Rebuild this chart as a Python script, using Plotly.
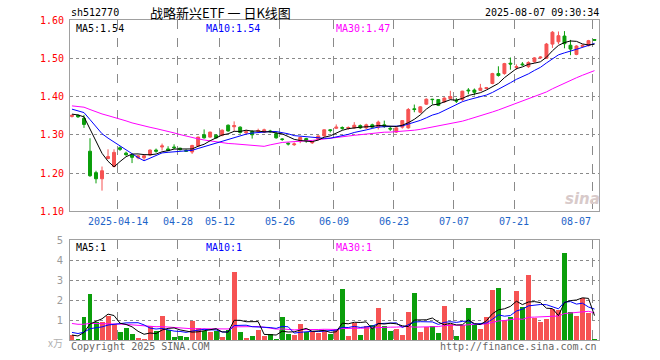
import plotly.graph_objects as go
import pandas as pd

# ---------------- data ----------------
holidays = ["2025-04-04", "2025-05-01", "2025-05-02", "2025-05-05", "2025-06-02"]
dates = [d.strftime("%Y-%m-%d") for d in
         pd.bdate_range("2025-04-01", "2025-08-07", freq="C", holidays=holidays)]

open_ = [1.348, 1.351, 1.343, 1.257, 1.201, 1.185, 1.238, 1.217, 1.266, 1.252,
         1.247, 1.240, 1.240, 1.247, 1.260, 1.268, 1.263, 1.268, 1.265, 1.259,
         1.255, 1.271, 1.300, 1.294, 1.299, 1.299, 1.325, 1.321, 1.320, 1.305,
         1.309, 1.309, 1.307, 1.310, 1.303, 1.289, 1.278, 1.274, 1.284, 1.290,
         1.279, 1.288, 1.297, 1.313, 1.317, 1.319, 1.317, 1.318, 1.324, 1.318,
         1.326, 1.320, 1.326, 1.317, 1.307, 1.320, 1.318, 1.368, 1.359, 1.380,
         1.393, 1.392, 1.386, 1.394, 1.390, 1.392, 1.417, 1.417, 1.416, 1.421,
         1.434, 1.460, 1.460, 1.487, 1.476, 1.485, 1.478, 1.491, 1.501, 1.500,
         1.537, 1.543, 1.558, 1.534, 1.510, 1.531, 1.533, 1.549]
high = [1.353, 1.353, 1.352, 1.291, 1.206, 1.217, 1.262, 1.262, 1.270, 1.256,
        1.249, 1.247, 1.247, 1.262, 1.264, 1.277, 1.270, 1.275, 1.266, 1.262,
        1.274, 1.295, 1.314, 1.308, 1.302, 1.314, 1.327, 1.335, 1.322, 1.313,
        1.312, 1.316, 1.316, 1.313, 1.309, 1.291, 1.280, 1.280, 1.295, 1.292,
        1.283, 1.298, 1.314, 1.315, 1.327, 1.322, 1.322, 1.333, 1.327, 1.329,
        1.329, 1.337, 1.337, 1.323, 1.320, 1.338, 1.370, 1.379, 1.375, 1.395,
        1.394, 1.393, 1.398, 1.415, 1.396, 1.415, 1.422, 1.421, 1.433, 1.425,
        1.462, 1.479, 1.488, 1.502, 1.484, 1.490, 1.492, 1.503, 1.505, 1.540,
        1.571, 1.570, 1.571, 1.548, 1.534, 1.536, 1.548, 1.550]
low = [1.345, 1.344, 1.318, 1.190, 1.173, 1.154, 1.236, 1.215, 1.258, 1.245,
       1.226, 1.236, 1.233, 1.245, 1.253, 1.259, 1.257, 1.263, 1.259, 1.255,
       1.250, 1.268, 1.290, 1.292, 1.290, 1.296, 1.308, 1.310, 1.303, 1.302,
       1.290, 1.305, 1.305, 1.305, 1.290, 1.284, 1.272, 1.271, 1.278, 1.279,
       1.276, 1.286, 1.295, 1.306, 1.315, 1.313, 1.313, 1.316, 1.315, 1.315,
       1.317, 1.314, 1.318, 1.310, 1.305, 1.316, 1.316, 1.359, 1.356, 1.378,
       1.379, 1.375, 1.384, 1.392, 1.383, 1.388, 1.406, 1.403, 1.414, 1.419,
       1.432, 1.452, 1.457, 1.470, 1.470, 1.480, 1.475, 1.488, 1.498, 1.498,
       1.527, 1.537, 1.526, 1.508, 1.508, 1.527, 1.531, 1.546]
close = [1.351, 1.347, 1.327, 1.193, 1.185, 1.206, 1.243, 1.254, 1.262, 1.248,
         1.241, 1.245, 1.245, 1.260, 1.257, 1.271, 1.259, 1.266, 1.261, 1.257,
         1.272, 1.294, 1.292, 1.307, 1.292, 1.312, 1.310, 1.324, 1.306, 1.308,
         1.300, 1.311, 1.313, 1.308, 1.292, 1.288, 1.276, 1.276, 1.293, 1.284,
         1.281, 1.297, 1.313, 1.311, 1.320, 1.317, 1.319, 1.325, 1.318, 1.326,
         1.320, 1.333, 1.322, 1.315, 1.318, 1.337, 1.366, 1.366, 1.373, 1.393,
         1.392, 1.377, 1.396, 1.400, 1.388, 1.414, 1.415, 1.411, 1.422, 1.423,
         1.460, 1.455, 1.486, 1.485, 1.478, 1.483, 1.489, 1.501, 1.503, 1.537,
         1.568, 1.559, 1.538, 1.524, 1.532, 1.534, 1.546, 1.547]
volume = [0.25, 0.05, 1.15, 2.30, 0.92, 0.88, 1.22, 0.80, 0.38, 0.60,
          0.30, 0.10, 0.05, 0.70, 0.45, 1.20, 0.50, 0.17, 0.20, 0.15,
          0.95, 0.58, 0.45, 0.40, 0.45, 0.15, 0.52, 3.40, 0.40, 0.10,
          0.20, 0.50, 0.20, 0.30, 0.05, 1.15, 0.30, 0.25, 0.80, 0.40,
          0.40, 0.35, 0.45, 0.30, 0.55, 2.55, 0.20, 0.83, 0.25, 0.70,
          0.75, 1.60, 0.70, 0.45, 0.55, 0.25, 1.40, 2.35, 0.40, 0.65,
          0.70, 0.35, 1.70, 0.80, 0.20, 0.75, 1.60, 0.75, 0.55, 1.15,
          2.50, 2.60, 1.00, 1.15, 2.45, 1.65, 3.25, 1.10, 0.90, 1.05,
          1.55, 1.50, 4.35, 1.40, 1.20, 2.10, 1.35, 0.05]

# sessions before the visible window (only used for the moving averages)
pre_close = [1.390, 1.386, 1.375, 1.368, 1.370, 1.374, 1.380, 1.395, 1.402, 1.398,
             1.380, 1.362, 1.355, 1.358, 1.366, 1.380, 1.388, 1.392, 1.386, 1.390,
             1.384, 1.380, 1.376, 1.382, 1.378, 1.358, 1.352, 1.355, 1.354]
pre_volume = [1.3, 1.1, 0.9, 1.2, 1.0, 0.8, 1.1, 1.3, 1.0, 0.9,
              1.2, 1.0, 0.9, 1.1, 1.0, 1.2, 0.9, 1.1, 1.0, 1.0,
              0.6, 0.5, 0.55, 0.45, 0.45, 0.3, 0.25, 0.2, 0.25]

tick_dates = ["2025-04-14", "2025-04-28", "2025-05-12", "2025-05-26", "2025-06-09",
              "2025-06-23", "2025-07-07", "2025-07-21", "2025-08-07"]
tick_labels = ["2025-04-14", "04-28", "05-12", "05-26", "06-09",
               "06-23", "07-07", "07-21", "08-07"]
price_ticks = [1.10, 1.20, 1.30, 1.40, 1.50, 1.60]
volume_ticks = [1, 2, 3, 4, 5]

# ---------------- helpers ----------------
RED = "#f65353"
GREEN = "#0b9e0b"
GRID = "#8a8a8a"
MONO = "DejaVu Sans Mono"
n = len(close)
x = list(range(n))


def ma(pre, vals, k):
    s = pd.Series(pre + vals).rolling(k).mean()
    return s.iloc[len(pre):].tolist()


ma5, ma10, ma30 = ma(pre_close, close, 5), ma(pre_close, close, 10), ma(pre_close, close, 30)
vma5, vma10, vma30 = ma(pre_volume, volume, 5), ma(pre_volume, volume, 10), ma(pre_volume, volume, 30)
vol_colors = [RED if c >= o else GREEN for o, c in zip(open_, close)]

grid_x = [dates.index(d) - 0.4 for d in tick_dates]

W, H = 660, 360
L, R, T, B = 70, 61, 20, 20
PW, PH = W - L - R, H - T - B
xr = [-0.33, 87.75]
pr = [1.10, 1.60]
vr = [0, 5]
X_PER_PX = (xr[1] - xr[0]) / PW


def px(xp):
    return (xp - L) / PW


def py(yp):
    return (H - B - yp) / PH


fig = go.Figure()
fig.add_trace(go.Candlestick(
    x=x, open=open_, high=high, low=low, close=close,
    increasing=dict(line=dict(color=RED, width=1), fillcolor=RED),
    decreasing=dict(line=dict(color=GREEN, width=1), fillcolor=GREEN),
    whiskerwidth=0, hoverinfo="skip", showlegend=False, xaxis="x", yaxis="y"))
for vals, col in [(ma30, "#ff00ff"), (ma10, "#0000ff"), (ma5, "#000000")]:
    fig.add_trace(go.Scatter(x=x, y=vals, mode="lines", line=dict(color=col, width=1),
                             hoverinfo="skip", showlegend=False, xaxis="x", yaxis="y"))

fig.add_trace(go.Bar(x=x, y=volume, marker=dict(color=vol_colors, line=dict(width=0)),
                     width=0.83, hoverinfo="skip", showlegend=False, xaxis="x2", yaxis="y2"))
for vals, col in [(vma30, "#ff00ff"), (vma10, "#0000ff"), (vma5, "#000000")]:
    fig.add_trace(go.Scatter(x=x, y=vals, mode="lines", line=dict(color=col, width=1),
                             hoverinfo="skip", showlegend=False, xaxis="x2", yaxis="y2"))

axis_common = dict(showline=True, mirror=True, linecolor="#a0a0a0", linewidth=1,
                   zeroline=False, automargin=False, ticks="", showgrid=True,
                   gridcolor=GRID, gridwidth=1, layer="below traces")
pdom = [py(211.3), 1]
vdom = [0, py(240)]
fig.update_layout(
    width=W, height=H, margin=dict(l=L, r=R, t=T, b=B, autoexpand=False),
    paper_bgcolor="white", plot_bgcolor="white",
    bargap=0,
    xaxis=dict(domain=[0, 1], range=xr, anchor="y", tickvals=grid_x, showticklabels=False,
               griddash="dash", rangeslider=dict(visible=False), **axis_common),
    yaxis=dict(domain=pdom, range=pr, anchor="x",
               tickvals=price_ticks, ticktext=["%.2f" % v for v in price_ticks],
               tickfont=dict(family=MONO, size=10, color="#ff0000"),
               ticklabelstandoff=3, griddash="dot", **axis_common),
    xaxis2=dict(domain=[0, 1], range=xr, anchor="y2", tickvals=grid_x, showticklabels=False,
                griddash="dash", **axis_common),
    yaxis2=dict(domain=vdom, range=vr, anchor="x2",
                tickvals=volume_ticks, ticktext=[str(v) for v in volume_ticks],
                tickfont=dict(family="DejaVu Sans", size=10, color="#9a9a9a"),
                ticklabelstandoff=4, griddash="dot", **axis_common),
)

ann = []


def text(t, xp, yp, color="#000", size=10, family=MONO, xanchor="left"):
    ann.append(dict(text=t, x=px(xp), y=py(yp), xref="paper", yref="paper",
                    xanchor=xanchor, yanchor="middle", showarrow=False,
                    font=dict(family=family, size=size, color=color)))


text("sh512770", 69, 13)
text("战略新兴ETF 一 日K线图", 148, 12, size=13, family="Noto Sans CJK SC")
text("2025-08-07 09:30:34", 601, 13, xanchor="right")
text("MA5:1.54", 74, 28)
text("MA10:1.54", 204, 28, color="#0000ff")
text("MA30:1.47", 334, 28, color="#ff00ff")
text("MA5:1", 74, 247)
text("MA10:1", 204, 247, color="#0000ff")
text("MA30:1", 334, 247, color="#ff00ff")
text("Copyright 2025 SINA.COM", 69, 346, color="#666666")
text("http://finance.sina.com.cn", 599, 346, color="#666666", xanchor="right")
text("x万", 65, 342, color="#b0b0b0", size=10, family="Noto Sans CJK SC", xanchor="right")
text("<b><i>sina</i></b>", 582, 199, color="#d8caca", size=15, family="DejaVu Sans", xanchor="center")

for d, lab in zip(tick_dates, tick_labels):
    gx = dates.index(d) - 0.4
    last = d == tick_dates[-1]
    ann.append(dict(text=lab, x=px(L + (gx - xr[0]) / X_PER_PX + (1 if last else 0)),
                    y=py(221), xref="paper", yref="paper",
                    xanchor="right" if last else "center", yanchor="middle", showarrow=False,
                    font=dict(family=MONO, size=10, color="#1e64c8")))

fig.update_layout(annotations=ann)

fig.write_html("out.html", config={"displayModeBar": False},
               post_script="document.body.style.margin='0px';document.body.style.overflow='hidden';")
